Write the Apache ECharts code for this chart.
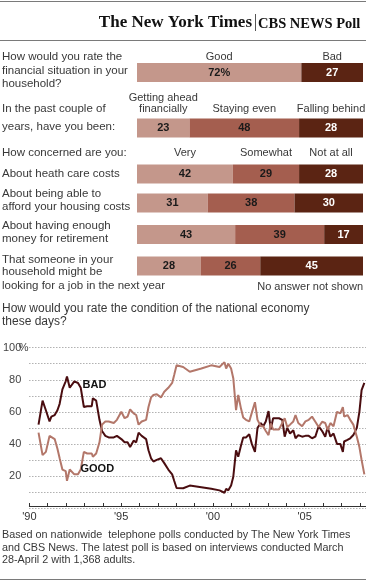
<!DOCTYPE html>
<html><head><meta charset="utf-8">
<script src="https://cdn.jsdelivr.net/npm/echarts@6/dist/echarts.min.js"></script>
<style>html,body{margin:0;padding:0;background:#fff}#c{width:366px;height:585px}</style>
</head><body><div id="c"></div>
<script>
// ---------- DATA ----------
const q1Text = 'How would you rate the\nfinancial situation in your\nhousehold?';
const q1Headers = ['Good', 'Bad'];
const q1Values = [72, 27];

const q2TextA = 'In the past couple of';
const q2TextB = 'years, have you been:';
const q2Headers = ['Getting ahead\nfinancially', 'Staying even', 'Falling behind'];
const q2Values = [23, 48, 28];

const concernTitle = 'How concerned are you:';
const concernHeaders = ['Very', 'Somewhat', 'Not at all'];
const concernItems = [
  'About heath care costs',
  'About being able to\nafford your housing costs',
  'About having enough\nmoney for retirement',
  'That someone in your\nhousehold might be\nlooking for a job in the next year'
];
const healthValues = [42, 29, 28];
const housingValues = [31, 38, 30];
const retirementValues = [43, 39, 17];
const jobValues = [28, 26, 45];
const noAnswerNote = 'No answer not shown';

const lineQuestion = 'How would you rate the condition of the national economy\nthese days?';
const pollDates = [1990.50,1990.72,1990.90,1991.10,1991.20,1991.38,1991.53,1991.65,1991.80,1991.98,
  1992.05,1992.20,1992.45,1992.65,1992.80,1992.97,1993.15,1993.40,1993.46,1993.64,
  1993.82,1993.96,1994.14,1994.32,1994.60,1994.77,1995.01,1995.19,1995.35,1995.49,
  1995.68,1995.82,1995.95,1996.12,1996.36,1996.49,1996.63,1996.76,1996.94,1997.17,
  1997.35,1997.57,1997.78,1997.89,1998.02,1998.38,1998.74,1999.37,1999.91,2000.36,
  2000.63,2000.72,2000.84,2000.99,2001.11,2001.26,2001.38,2001.53,2001.65,2001.80,
  2001.98,2002.12,2002.29,2002.43,2002.61,2002.74,2002.88,2003.03,2003.15,2003.28,
  2003.45,2003.60,2003.78,2003.91,2004.05,2004.20,2004.38,2004.50,2004.65,2004.86,
  2005.04,2005.22,2005.40,2005.58,2005.76,2005.95,2006.12,2006.25,2006.40,2006.57,
  2006.76,2006.94,2007.08,2007.15,2007.33,2007.48,2007.65,2007.84,2007.98,2008.10,2008.25];
const badValues = [52,67,61,54,57,58,61,65,74,79,
  82,75,79,78,75,63,63.5,63.5,68.5,67,
  55,48,45,44,44,45,43,41,41,38,
  42,41,47,45,43,36,31,29,30,31,
  28,24,21,17,12.5,12.3,14,13,12,11,
  9.5,12,11,14,19.5,36,32,39,44,44,
  46,40,35,50,53,51,54,60.5,49,56,
  56,56,55,44.5,50,46.5,48.5,43.5,45.5,44.5,
  45,45,43.5,44.5,51,48,44.5,50.5,44.5,46.5,
  40,40,35,41.5,42.5,43.5,45.5,50,60,73.5,78];
const goodValues = [47,33,35,45,44,43,37,31,24,23,
  17,24,21,21,24,35,34,34,32,34,
  41,52,54,54,53,55,60,56,57,61.5,
  59,58,52,54,55,63,69,70.5,71,69,
  72.5,75,78,83,89,88,85,87,89,88,
  91,87,90,87,81,61,70.5,62,56.5,55,
  54,59.5,66,55,51,51,48,45.5,52.8,49,
  49,49,53,56,50.5,52,54,58,53,51,
  54,55,57,53.8,50.5,53.8,53,48.7,53,51,
  60,59,63,57,58,55,52,44.5,38,30,21];
const seriesNames = ['BAD', 'GOOD'];
const yTickLabels = [20, 40, 60, 80, 100];
const xTickYears = [1990, 1995, 2000, 2005];
const footnote = 'Based on nationwide  telephone polls conducted by The New York Times\nand CBS News. The latest poll is based on interviews conducted March\n28-April 2 with 1,368 adults.';

// ---------- STYLE / LAYOUT ----------
const FONT = '"Liberation Sans", Arial, Helvetica, sans-serif';
const C_LIGHT = '#c4978b', C_MID = '#a45e4f', C_DARK = '#5b2413';
const C_BAD = '#4a0d10', C_GOOD = '#b3776a';
const TXT = '#383838';

const barRows = [
  { values: q1Values, colors: [C_LIGHT, C_DARK], center: 72.5, pct: true },
  { values: q2Values, colors: [C_LIGHT, C_MID, C_DARK], center: 128 },
  { values: healthValues, colors: [C_LIGHT, C_MID, C_DARK], center: 174 },
  { values: housingValues, colors: [C_LIGHT, C_MID, C_DARK], center: 203 },
  { values: retirementValues, colors: [C_LIGHT, C_MID, C_DARK], center: 234.5 },
  { values: jobValues, colors: [C_LIGHT, C_MID, C_DARK], center: 266 }
];
const BAR_H = 19, BAR_LEFT = 137, BAR_RIGHT = 3;
const barTotal = 99;

const grids = [], xAxes = [], yAxes = [], series = [];
barRows.forEach((row, r) => {
  grids.push({ left: BAR_LEFT, right: BAR_RIGHT, top: row.center - BAR_H / 2, height: BAR_H });
  xAxes.push({ gridIndex: r, type: 'value', min: 0, max: barTotal, show: false });
  yAxes.push({ gridIndex: r, type: 'category', data: ['v'], show: false });
  row.values.forEach((v, s) => {
    const dark = row.colors[s] === C_DARK;
    series.push({
      type: 'bar', xAxisIndex: r, yAxisIndex: r, stack: 'row' + r,
      data: [v], barWidth: '100%', silent: true,
      itemStyle: { color: row.colors[s] },
      label: {
        show: true, position: 'inside',
        formatter: (p) => p.value + (row.pct && s === 0 ? '%' : ''),
        color: dark ? '#fff' : '#1a1a1a', fontWeight: 'bold', fontSize: 11, fontFamily: FONT
      }
    });
  });
});

// line chart grid
const LG = barRows.length;
const lineTop = 347.7, lineBottomY = 508;
grids.push({ left: 26.7, right: 0, top: lineTop, height: lineBottomY - lineTop });
xAxes.push({
  gridIndex: LG, type: 'value', min: 1990, max: 2008.34, interval: 1, offset: -2,
  axisLine: { show: true, lineStyle: { color: '#333', width: 1 } },
  axisTick: { show: true, inside: true, length: 3, lineStyle: { color: '#333' } },
  axisLabel: {
    showMaxLabel: false, margin: 5, fontSize: 11, color: '#333', fontFamily: FONT,
    formatter: (v) => xTickYears.includes(v) ? "'" + String(v).slice(2) : ''
  },
  splitLine: { show: false }
});
yAxes.push({
  gridIndex: LG, type: 'value', min: 0, max: 100, interval: 10,
  axisLine: { show: false }, axisTick: { show: false },
  axisLabel: {
    margin: 8, fontSize: 11, color: '#444', fontFamily: FONT,
    formatter: (v) => yTickLabels.includes(v) ? String(v) : ''
  },
  splitLine: { show: true, lineStyle: { color: '#8a8a8a', type: [1, 2], width: 1 } }
});

function mkLine(name, vals, color, labelCoord) {
  return {
    type: 'line', name, xAxisIndex: LG, yAxisIndex: LG,
    data: pollDates.map((d, i) => [d, vals[i]]),
    symbol: 'none', silent: true,
    lineStyle: { color, width: 2 }, itemStyle: { color },
    markPoint: {
      symbol: 'rect', symbolSize: [1, 1], silent: true,
      itemStyle: { color: 'rgba(0,0,0,0)' },
      label: { show: true, position: 'inside', formatter: name, color: '#111', fontWeight: 'bold', fontSize: 11, fontFamily: FONT },
      data: [{ coord: labelCoord }]
    }
  };
}
series.push(mkLine(seriesNames[0], badValues, C_BAD, [1993.55, 76.7]));
series.push(mkLine(seriesNames[1], goodValues, C_GOOD, [1993.7, 24.1]));

const chart = echarts.init(document.getElementById('c'), null, { renderer: 'canvas' });
chart.setOption({
  animation: false, backgroundColor: '#fff',
  grid: grids, xAxis: xAxes, yAxis: yAxes, series
});

// ---------- TEXT / DECORATION ----------
function txt(x, y, text, o) {
  o = o || {};
  const size = o.size || 11.5;
  return {
    type: 'text', x, y, silent: true, z: 100,
    style: {
      text, fill: o.color || TXT,
      font: (o.bold ? 'bold ' : '') + size + 'px ' + (o.family || FONT),
      align: o.align || 'left', textAlign: o.align || 'left',
      verticalAlign: o.va || 'middle', textVerticalAlign: o.va || 'middle',
      lineHeight: o.lh || size + 1.5
    }
  };
}
function rule(y) {
  return { type: 'line', silent: true, shape: { x1: 0, y1: y, x2: 366, y2: y }, style: { stroke: '#7a7a7a', lineWidth: 1 } };
}
const g = [];
g.push(rule(1.5), rule(40.5), rule(579.5));
g.push(txt(252, 22.5, 'The New York Times', { size: 17, bold: true, align: 'right', color: '#111', family: '"Liberation Serif", "Times New Roman", serif' }));
g.push({ type: 'line', silent: true, shape: { x1: 255.5, y1: 14, x2: 255.5, y2: 31 }, style: { stroke: '#555', lineWidth: 1 } });
g.push(txt(258, 24, 'CBS NEWS Poll', { size: 14.5, bold: true, color: '#111', family: '"Liberation Serif", "Times New Roman", serif' }));

function lines(x, ys, text, o) { text.split('\n').forEach((t, i) => g.push(txt(x, ys[i], t, o))); }
lines(2, [57.2, 70.5, 83.8], q1Text);
g.push(txt(2, 108.7, q2TextA));
g.push(txt(2, 127, q2TextB));
g.push(txt(2, 153.3, concernTitle));
lines(2, [173.5], concernItems[0]);
lines(2, [193.7, 206.5], concernItems[1]);
lines(2, [225.5, 238.8], concernItems[2]);
lines(2, [259.5, 272.3, 285.5], concernItems[3]);
g.push(txt(363, 286.5, noAnswerNote, { size: 11, align: 'right' }));
lines(2, [308.7, 321.5], lineQuestion, { size: 12 });
lines(2, [535.5, 548, 560.5], footnote, { size: 10.8 });

function headers(rowIdx, labels, baseY) {
  let cum = 0;
  barRows[rowIdx].values.forEach((v, s) => {
    const x = chart.convertToPixel({ xAxisIndex: rowIdx }, cum + v / 2);
    cum += v;
    const parts = labels[s].split('\n');
    parts.forEach((t, i) => g.push(txt(x, baseY - (parts.length - 1 - i) * 11, t, { size: 11, align: 'center' })));
  });
}
headers(0, q1Headers, 57.2);
headers(1, q2Headers, 108.7);
headers(2, concernHeaders, 153.3);

const y100 = chart.convertToPixel({ yAxisIndex: LG }, 100);
g.push(txt(18.8, y100, '%', { size: 11, color: '#444' }));

chart.setOption({ graphic: g });
</script>
</body></html>
